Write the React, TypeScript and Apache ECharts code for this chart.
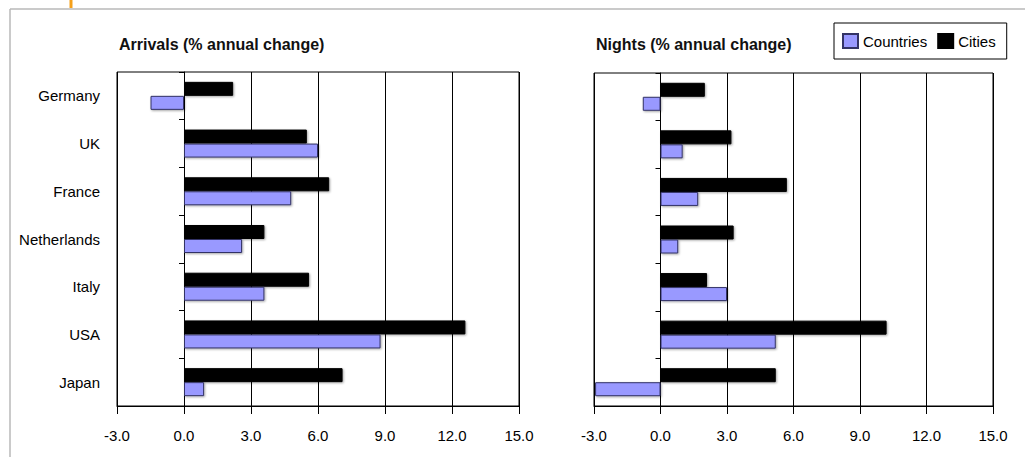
import React, { useEffect, useRef } from "react";
import * as echarts from "echarts";

const categories = ["Germany", "UK", "France", "Netherlands", "Italy", "USA", "Japan"];
const arrivalsCountries = [-1.5, 6.0, 4.8, 2.6, 3.6, 8.8, 0.9];
const arrivalsCities = [2.2, 5.5, 6.5, 3.6, 5.6, 12.6, 7.1];
const nightsCountries = [-0.8, 1.0, 1.7, 0.8, 3.0, 5.2, -2.95];
const nightsCities = [2.0, 3.2, 5.7, 3.3, 2.1, 10.2, 5.2];
const titles = ["Arrivals (% annual change)", "Nights (% annual change)"];
const seriesNames = ["Countries", "Cities"];

const FONT = "'Liberation Sans', Arial, sans-serif";

export default function App() {
  const ref = useRef<HTMLDivElement>(null);
  useEffect(() => {
    document.body.style.margin = "0";
    if (!ref.current) return;
    const chart = echarts.init(ref.current, undefined, { renderer: "svg" });

    const xAxisCommon = (gridIndex: number) => ({
      type: "value",
      gridIndex,
      min: -3,
      max: 15,
      interval: 3,
      axisLine: { show: true, onZero: false, lineStyle: { color: "#000", width: 1 } },
      axisTick: { show: true, length: 8, lineStyle: { color: "#000" } },
      axisLabel: {
        formatter: (v: number) => v.toFixed(1),
        fontSize: 15,
        fontFamily: FONT,
        color: "#000",
        margin: 22,
      },
      splitLine: { show: true, lineStyle: { color: "#000", width: 1 } },
    });

    const barYAxis = (gridIndex: number) => ({
      type: "category",
      gridIndex,
      data: categories,
      inverse: true,
      axisLine: { show: true, onZero: true, lineStyle: { color: "#000", width: 1 } },
      axisTick: { show: true, length: 5, lineStyle: { color: "#000" } },
      axisLabel: { show: false },
      splitLine: { show: false },
    });

    const countriesStyle = {
      color: "#9999FF",
      borderColor: "#333366",
      borderWidth: 1,
      shadowBlur: 2,
      shadowColor: "rgba(0,0,0,0.35)",
      shadowOffsetX: 1,
      shadowOffsetY: 1,
    };
    const citiesStyle = {
      color: "#000",
      borderColor: "#000",
      borderWidth: 1,
      shadowBlur: 2,
      shadowColor: "rgba(0,0,0,0.35)",
      shadowOffsetX: 1,
      shadowOffsetY: 1,
    };

    const option: any = {
      animation: false,
      backgroundColor: "#fff",
      textStyle: { fontFamily: FONT },
      legend: {
        data: seriesNames,
        left: 834,
        top: 23,
        orient: "horizontal",
        itemWidth: 15,
        itemHeight: 14,
        itemGap: 10,
        icon: "rect",
        padding: [10, 11, 10, 8],
        borderColor: "#000",
        borderWidth: 1,
        textStyle: { fontSize: 15, color: "#000", fontFamily: FONT },
      },
      grid: [
        { left: 117, top: 72, width: 402, height: 334, show: true, borderColor: "#000", borderWidth: 1, backgroundColor: "#fff" },
        { left: 594, top: 73, width: 399, height: 333, show: true, borderColor: "#000", borderWidth: 1, backgroundColor: "#fff" },
      ],
      xAxis: [xAxisCommon(0), xAxisCommon(1)],
      yAxis: [
        barYAxis(0),
        {
          type: "category",
          gridIndex: 0,
          data: categories,
          inverse: true,
          position: "left",
          axisLine: { show: false, onZero: false },
          axisTick: { show: false },
          axisLabel: { fontSize: 15, fontFamily: FONT, color: "#000", margin: 17, padding: [0, 0, 5, 0] },
          splitLine: { show: false },
        },
        barYAxis(1),
      ],
      series: [
        {
          name: seriesNames[1],
          type: "bar",
          xAxisIndex: 0,
          yAxisIndex: 0,
          data: arrivalsCities,
          barWidth: 14,
          barGap: "0%",
          itemStyle: citiesStyle,
        },
        {
          name: seriesNames[0],
          type: "bar",
          xAxisIndex: 0,
          yAxisIndex: 0,
          data: arrivalsCountries,
          barWidth: 14,
          barGap: "0%",
          itemStyle: countriesStyle,
        },
        {
          name: seriesNames[1],
          type: "bar",
          xAxisIndex: 1,
          yAxisIndex: 2,
          data: nightsCities,
          barWidth: 14,
          barGap: "0%",
          itemStyle: citiesStyle,
        },
        {
          name: seriesNames[0],
          type: "bar",
          xAxisIndex: 1,
          yAxisIndex: 2,
          data: nightsCountries,
          barWidth: 14,
          barGap: "0%",
          itemStyle: countriesStyle,
        },
      ],
      graphic: [
        {
          type: "line",
          shape: { x1: 10, y1: 9, x2: 1025, y2: 9 },
          style: { stroke: "#b8b8b8", lineWidth: 1.5 },
          silent: true,
        },
        {
          type: "line",
          shape: { x1: 10, y1: 9, x2: 10, y2: 457 },
          style: { stroke: "#b8b8b8", lineWidth: 1.5 },
          silent: true,
        },
        {
          type: "line",
          shape: { x1: 71, y1: 0, x2: 71, y2: 8 },
          style: { stroke: "#F5A01A", lineWidth: 3 },
          silent: true,
        },
        {
          type: "text",
          x: 119,
          y: 44,
          style: {
            text: titles[0],
            font: `bold 16px ${FONT}`,
            fill: "#111",
            textVerticalAlign: "middle",
            verticalAlign: "middle",
          },
          silent: true,
        },
        {
          type: "text",
          x: 596,
          y: 44,
          style: {
            text: titles[1],
            font: `bold 16px ${FONT}`,
            fill: "#111",
            textVerticalAlign: "middle",
            verticalAlign: "middle",
          },
          silent: true,
        },
      ],
    };

    chart.setOption(option);
    return () => chart.dispose();
  }, []);

  return <div ref={ref} style={{ width: 1025, height: 457 }} />;
}
